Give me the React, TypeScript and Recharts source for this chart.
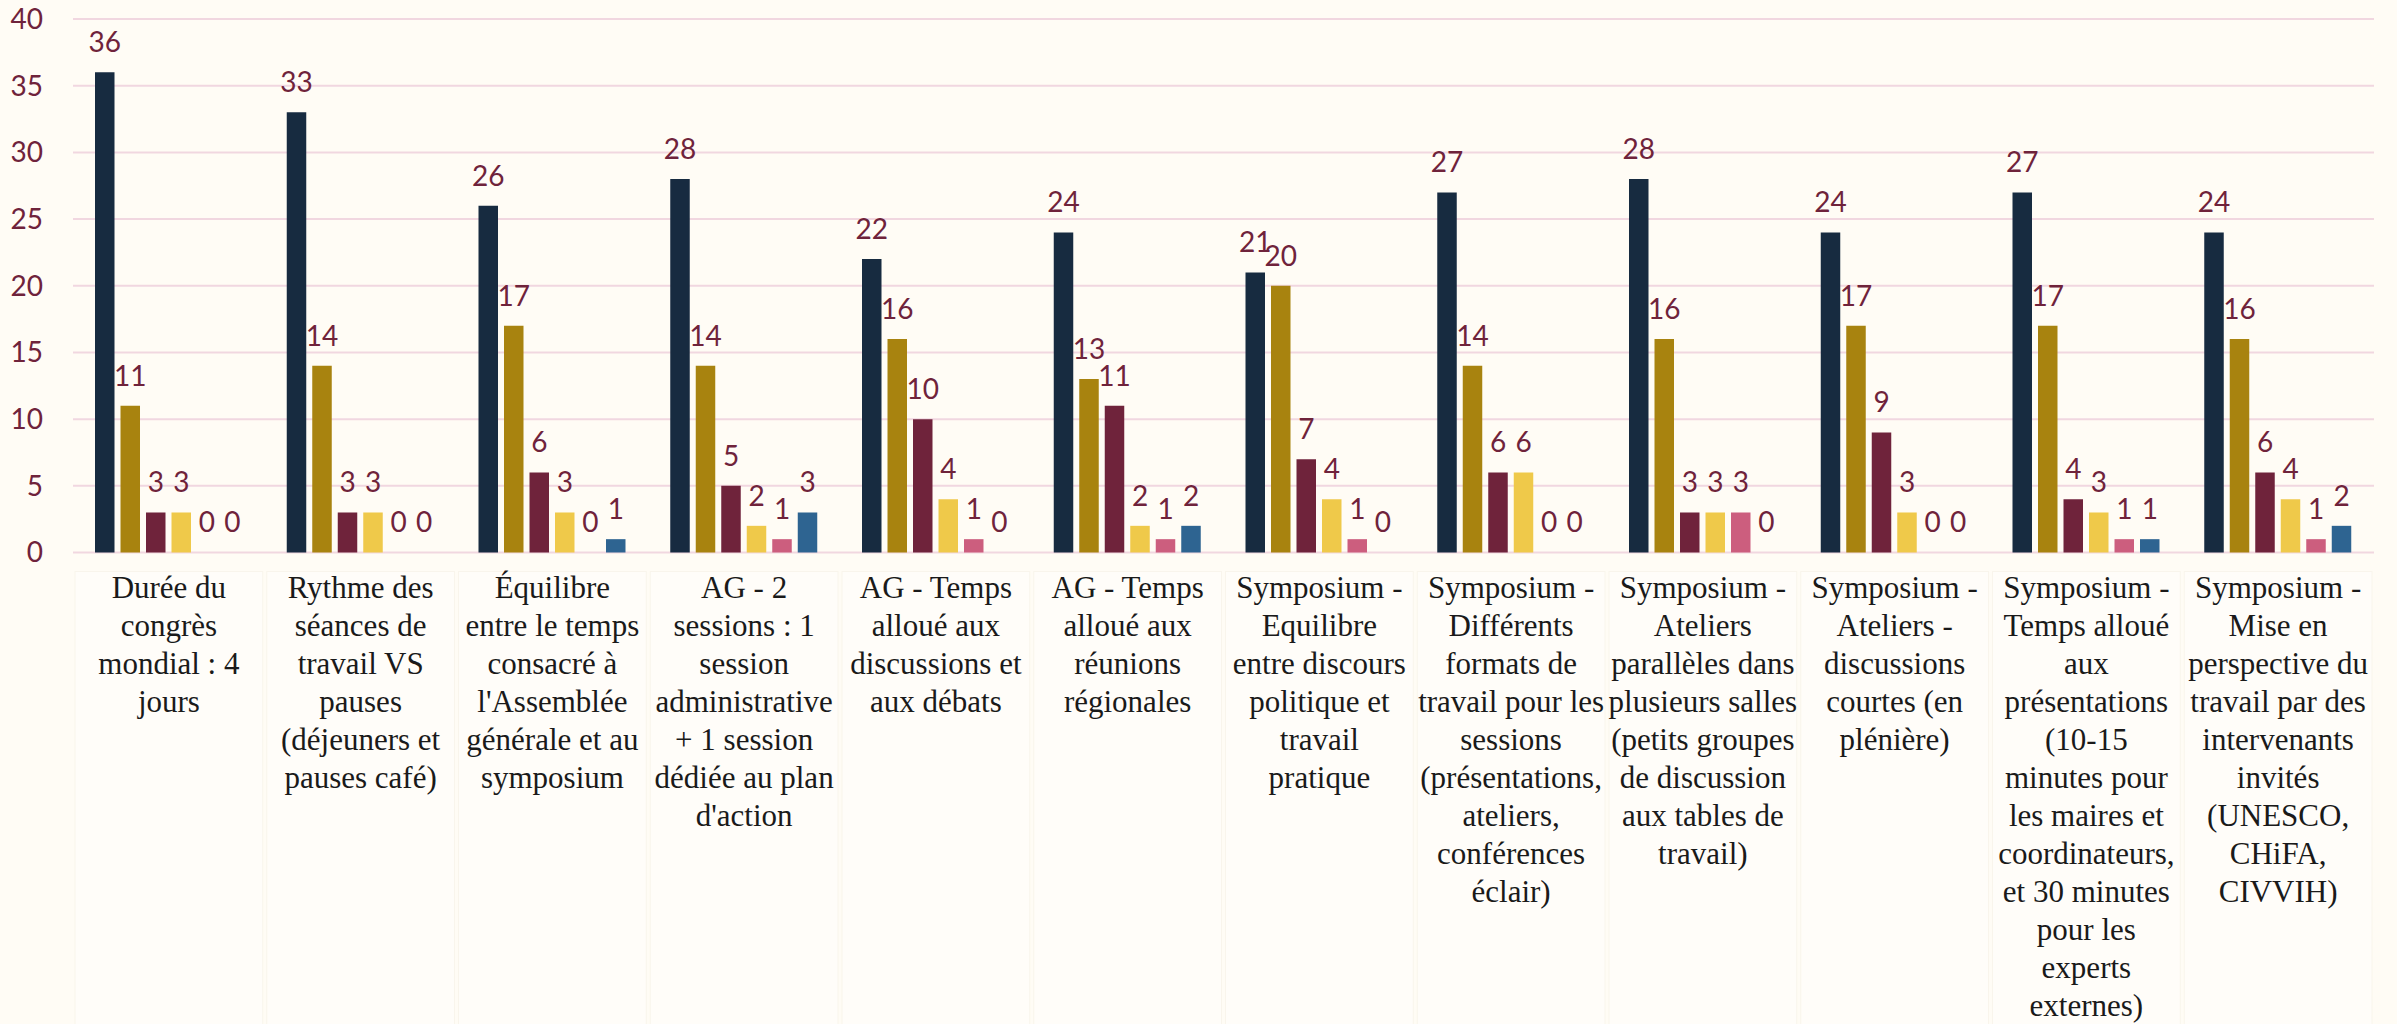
import { BarChart, Bar, XAxis, YAxis, CartesianGrid, LabelList } from "recharts";

const categories = [
  "Durée du\ncongrès\nmondial : 4\njours",
  "Rythme des\nséances de\ntravail VS\npauses\n(déjeuners et\npauses café)",
  "Équilibre\nentre le temps\nconsacré à\nl'Assemblée\ngénérale et au\nsymposium",
  "AG - 2\nsessions : 1\nsession\nadministrative\n+ 1 session\ndédiée au plan\nd'action",
  "AG - Temps\nalloué aux\ndiscussions et\naux débats",
  "AG - Temps\nalloué aux\nréunions\nrégionales",
  "Symposium -\nEquilibre\nentre discours\npolitique et\ntravail\npratique",
  "Symposium -\nDifférents\nformats de\ntravail pour les\nsessions\n(présentations,\nateliers,\nconférences\néclair)",
  "Symposium -\nAteliers\nparallèles dans\nplusieurs salles\n(petits groupes\nde discussion\naux tables de\ntravail)",
  "Symposium -\nAteliers -\ndiscussions\ncourtes (en\nplénière)",
  "Symposium -\nTemps alloué\naux\nprésentations\n(10-15\nminutes pour\nles maires et\ncoordinateurs,\net 30 minutes\npour les\nexperts\nexternes)",
  "Symposium -\nMise en\nperspective du\ntravail par des\nintervenants\ninvités\n(UNESCO,\nCHiFA,\nCIVVIH)",
];

const serie1 = [36, 33, 26, 28, 22, 24, 21, 27, 28, 24, 27, 24];
const serie2 = [11, 14, 17, 14, 16, 13, 20, 14, 16, 17, 17, 16];
const serie3 = [3, 3, 6, 5, 10, 11, 7, 6, 3, 9, 4, 6];
const serie4 = [3, 3, 3, 2, 4, 2, 4, 6, 3, 3, 3, 4];
const serie5 = [0, 0, 0, 1, 1, 1, 1, 0, 3, 0, 1, 1];
const serie6 = [0, 0, 1, 3, 0, 2, 0, 0, 0, 0, 1, 2];

const yTicks = [0, 5, 10, 15, 20, 25, 30, 35, 40];

const series = [
  { key: "s1", values: serie1, color: "#172b40" },
  { key: "s2", values: serie2, color: "#a8830f" },
  { key: "s3", values: serie3, color: "#6f233b" },
  { key: "s4", values: serie4, color: "#efc94a" },
  { key: "s5", values: serie5, color: "#cc5e7e" },
  { key: "s6", values: serie6, color: "#2e6491" },
];

const chartData = categories.map((name, i) => {
  const row: Record<string, string | number> = { name };
  series.forEach((s) => {
    row[s.key] = s.values[i];
  });
  return row;
});

const bandWidth = (2374 - 73) / categories.length;
const labelColor = "#6f233b";

// cellule pâle sous chaque catégorie, texte découpé ligne par ligne
function CategoryTick(props: any) {
  const { x, y, payload } = props;
  const lines = String(payload.value).split("\n");
  return (
    <g>
      <rect
        x={x - bandWidth / 2 + 2}
        y={y + 19}
        width={bandWidth - 4}
        height={460}
        fill="#fffdf9"
        stroke="#f9f5ec"
        strokeWidth={1}
      />
      <text
        x={x}
        y={y + 45}
        textAnchor="middle"
        fontFamily="'Liberation Serif', serif"
        fontSize={31}
        fill="#1a1a1a"
      >
        {lines.map((line, i) => (
          <tspan key={i} x={x} dy={i === 0 ? 0 : 38}>
            {line}
          </tspan>
        ))}
      </text>
    </g>
  );
}

export default function App() {
  return (
    <div
      style={{
        position: "absolute",
        left: 0,
        top: 0,
        width: 2397,
        height: 1024,
        background: "#fffcf5",
      }}
    >
      <BarChart
        width={2397}
        height={1024}
        data={chartData}
        margin={{ top: 19, right: 23, left: 0, bottom: 0 }}
        barSize={19.5}
        barGap={6}
      >
        <CartesianGrid vertical={false} stroke="#f1d7e0" strokeWidth={2} />
        <XAxis
          dataKey="name"
          interval={0}
          height={471.5}
          axisLine={false}
          tickLine={false}
          tickSize={0}
          tickMargin={0}
          tick={<CategoryTick />}
        />
        <YAxis
          width={73}
          domain={[0, 40]}
          ticks={yTicks}
          axisLine={false}
          tickLine={false}
          tickSize={0}
          tickMargin={30}
          tick={{ fill: labelColor, fontSize: 28, fontFamily: "Lato" }}
        />
        {series.map((s) => (
          <Bar
            key={s.key}
            dataKey={s.key}
            fill={s.color}
            minPointSize={0.01}
            isAnimationActive={false}
          >
            <LabelList
              dataKey={s.key}
              position="top"
              offset={20}
              fill={labelColor}
              fontSize={28}
              fontFamily="Lato"
            />
          </Bar>
        ))}
      </BarChart>
    </div>
  );
}
